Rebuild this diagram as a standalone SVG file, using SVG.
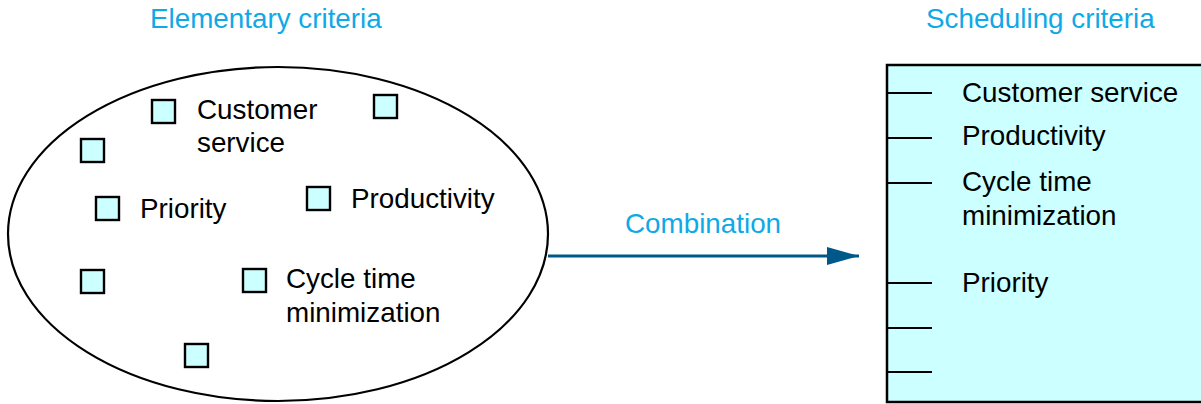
<svg xmlns="http://www.w3.org/2000/svg" width="1201" height="404" viewBox="0 0 1201 404">
<defs>
<style>
.t{font-family:"Liberation Sans",Arial,sans-serif;font-size:27.8px;fill:#000}
.b{font-family:"Liberation Sans",Arial,sans-serif;font-size:27.8px;fill:#0fa9e6}
.sq{fill:#ccffff;stroke:#000;stroke-width:2.4}
.tick{stroke:#000;stroke-width:2}
</style>
<marker id="ah" markerWidth="32" markerHeight="18" refX="32" refY="9" orient="auto" markerUnits="userSpaceOnUse">
<path d="M0,0 L32,9 L0,18 Z" fill="#00578a"/>
</marker>
</defs>
<rect width="1201" height="404" fill="#fff"/>
<text class="b" x="150" y="28">Elementary criteria</text>
<text class="b" x="926" y="28">Scheduling criteria</text>
<g id="elementary">
<ellipse cx="278" cy="234" rx="270" ry="167" fill="#fff" stroke="#000" stroke-width="2.2"/>
<rect class="sq" x="152" y="100" width="23" height="23"/>
<rect class="sq" x="374" y="95" width="23" height="23"/>
<rect class="sq" x="81" y="139" width="23" height="23"/>
<rect class="sq" x="96" y="197" width="23" height="23"/>
<rect class="sq" x="307" y="187" width="23" height="23"/>
<rect class="sq" x="81" y="270" width="23" height="23"/>
<rect class="sq" x="243" y="269" width="23" height="23"/>
<rect class="sq" x="185" y="344" width="23" height="23"/>
<text class="t" x="197" y="119">Customer</text>
<text class="t" x="197" y="152">service</text>
<text class="t" x="140" y="218">Priority</text>
<text class="t" x="351" y="208">Productivity</text>
<text class="t" x="286" y="288">Cycle time</text>
<text class="t" x="286" y="322">minimization</text>
</g>
<g id="scheduling">
<rect x="887" y="65" width="330" height="337" fill="#ccffff" stroke="#000" stroke-width="2.5"/>
<line class="tick" x1="887" y1="93" x2="932" y2="93"/>
<line class="tick" x1="887" y1="138" x2="932" y2="138"/>
<line class="tick" x1="887" y1="183" x2="932" y2="183"/>
<line class="tick" x1="887" y1="283" x2="932" y2="283"/>
<line class="tick" x1="887" y1="328" x2="932" y2="328"/>
<line class="tick" x1="887" y1="372" x2="932" y2="372"/>
<text class="t" x="962" y="102">Customer service</text>
<text class="t" x="962" y="145">Productivity</text>
<text class="t" x="962" y="191">Cycle time</text>
<text class="t" x="962" y="225">minimization</text>
<text class="t" x="962" y="292">Priority</text>
</g>
<g id="connectors">
<line x1="548" y1="256" x2="859" y2="256" stroke="#00578a" stroke-width="3" marker-end="url(#ah)"/>
<text class="b" x="625" y="233">Combination</text>
</g>
</svg>
